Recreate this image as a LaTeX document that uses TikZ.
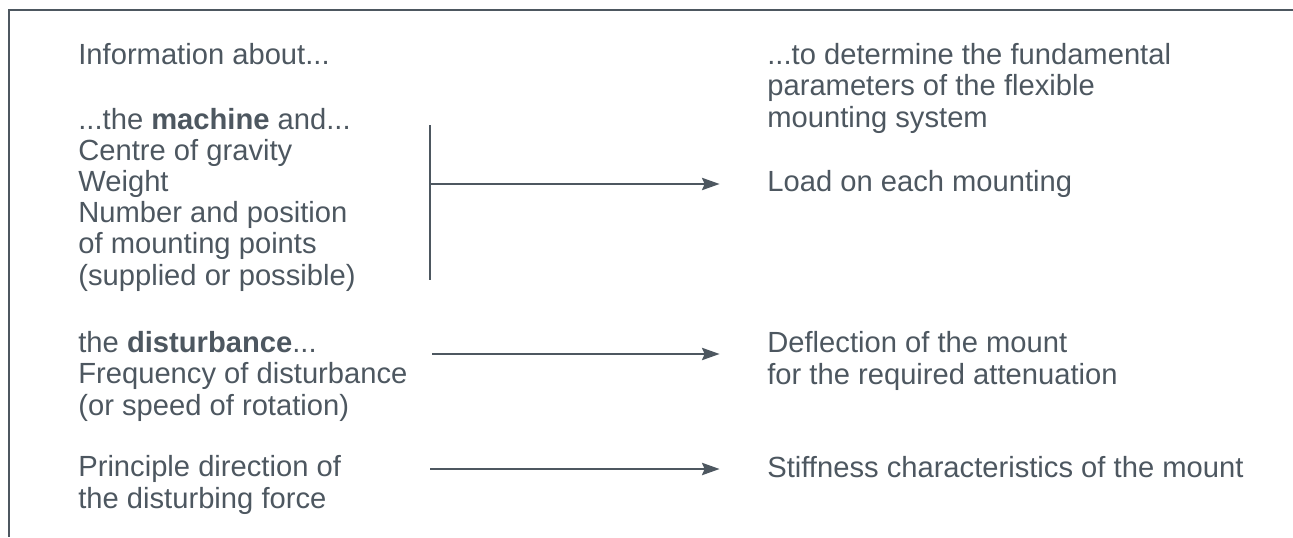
\documentclass[tikz,border=0pt]{standalone}
\usepackage{fontspec}
\setmainfont{Liberation Sans}
\usepackage{tikz}
\usetikzlibrary{positioning,arrows.meta}
\definecolor{slate}{RGB}{77,87,96}
\tikzset{%
  txt/.style={anchor=base west, align=left, inner sep=0pt, text=slate,
    font=\fontsize{16.6}{17.7}\selectfont},% text blocks, anchored at last line
  frame/.style={draw=slate, line width=1.5pt},% outer frame
  bracket/.style={draw=slate, line width=1.2pt},% vertical bar
  flow/.style={draw=slate, line width=1.2pt, shorten >=27pt,
    -{Stealth[length=10pt, width=7pt, inset=1.5pt]}}% arrows to the right column
}

\begin{document}
\begin{tikzpicture}[x=0.02cm, y=-0.02cm]
\useasboundingbox (0,0) rectangle (1293,537);

% frame, open at right and bottom
\coordinate (fr) at (1293,10);
\coordinate (fc) at (9,10);
\coordinate (fb) at (9,537);
\draw[frame] (fr) -- (fc) -- (fb);

% left column
\node[txt] (info) at (78,65) {Information about...};
\node[txt] (machine) at (78,285) {...the \textbf{machine} and...\\Centre of gravity\\Weight\\Number and position\\of mounting points\\(supplied or possible)};
\node[txt] (dist) at (78,415) {the \textbf{disturbance}...\\Frequency of disturbance\\(or speed of rotation)};
\node[txt] (force) at (78,508) {Principle direction of\\the disturbing force};

% right column
\node[txt] (goal) at (767,127) {...to determine the fundamental\\parameters of the flexible\\mounting system};
\node[txt] (load) at (767,191) {Load on each mounting};
\node[txt] (defl) at (767,384) {Deflection of the mount\\for the required attenuation};
\node[txt] (stiff) at (767,477) {Stiffness characteristics of the mount};

% connectors
\coordinate (bt) at (430,125);
\coordinate (bb) at (430,280);
\coordinate (bm) at (430,184);
\coordinate (d1) at (432,354);
\coordinate (s1) at (430,469);
\draw[bracket] (bt) -- (bb);
\draw[flow] (bm) -- (bm -| load.west);
\draw[flow] (d1) -- (d1 -| defl.west);
\draw[flow] (s1) -- (s1 -| stiff.west);

\end{tikzpicture}
\end{document}
